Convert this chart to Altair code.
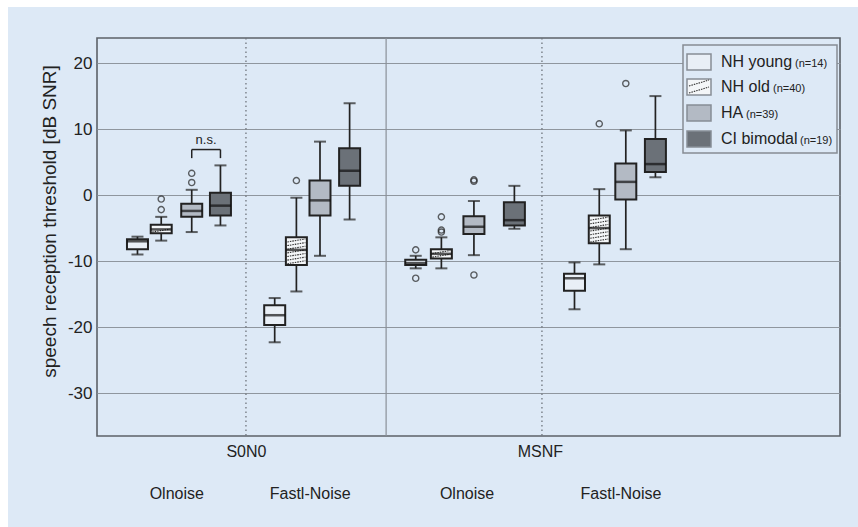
import altair as alt
import pandas as pd

# ---------------- data ----------------
conditions = ["S0N0 Olnoise", "S0N0 Fastl-Noise", "MSNF Olnoise", "MSNF Fastl-Noise"]
groups = ["NH young", "NH old", "HA", "CI bimodal"]
group_n = ["(n=14)", "(n=40)", "(n=39)", "(n=19)"]

# box centres on the condition axis (1 unit = one condition column)
box_pos = [
    [0.242, 0.404, 0.612, 0.808],
    [1.178, 1.326, 1.487, 1.689],
    [2.140, 2.315, 2.537, 2.813],
    [3.223, 3.392, 3.573, 3.775],
]
whisk_lo = [
    [-9.0, -6.9, -5.6, -4.6],
    [-22.3, -14.6, -9.2, -3.7],
    [-11.1, -11.1, -9.1, -5.1],
    [-17.3, -10.5, -8.2, 2.7],
]
q1 = [
    [-8.2, -5.8, -3.3, -3.1],
    [-19.7, -10.6, -3.1, 1.4],
    [-10.6, -9.6, -5.9, -4.6],
    [-14.5, -7.3, -0.65, 3.5],
]
median = [
    [-7.0, -5.2, -2.4, -1.6],
    [-18.2, -8.3, -0.8, 3.7],
    [-10.3, -8.9, -4.8, -3.8],
    [-12.6, -5.0, 2.0, 4.7],
]
q3 = [
    [-6.7, -4.5, -1.3, 0.35],
    [-16.7, -6.4, 2.2, 7.1],
    [-9.8, -8.2, -3.2, -1.1],
    [-11.9, -3.1, 4.8, 8.5],
]
whisk_hi = [
    [-6.3, -3.3, 0.8, 4.5],
    [-15.6, -0.4, 8.1, 13.9],
    [-9.2, -6.4, -0.9, 1.4],
    [-10.2, 0.9, 9.8, 15.0],
]
# outliers: (condition index, group index, value)
outliers = [
    (0, 1, -2.2), (0, 1, -0.6), (0, 2, 1.9), (0, 2, 3.3),
    (1, 1, 2.2),
    (2, 0, -8.3), (2, 0, -12.6), (2, 1, -5.6), (2, 1, -5.3), (2, 1, -3.3),
    (2, 2, 2.1), (2, 2, 2.3), (2, 2, -12.1),
    (3, 1, 10.8), (3, 2, 16.9),
]
# separators between condition columns
sep_pos = [0.982, 1.938, 3.001]
sep_kind = ["dotted", "solid", "dotted"]
# axis labels under the plot
scene_labels = ["S0N0", "MSNF"]
scene_pos = [0.985, 2.99]
noise_labels = ["Olnoise", "Fastl-Noise", "Olnoise", "Fastl-Noise"]
noise_pos = [0.51, 1.42, 2.49, 3.54]
# n.s. bracket between HA and CI in S0N0 Olnoise
ns_top, ns_leg, ns_text = 6.9, 5.6, 8.4
y_ticks = [-30, -20, -10, 0, 10, 20]

fills = ["#e9eff6", "#f4f6f8", "#b3bac4", "#6b7178"]
BG = "#dde9f6"
INK = "#222222"
FONT = "Liberation Sans"

# ---------------- tables ----------------
rows = []
for ci, c in enumerate(conditions):
    for gi, g in enumerate(groups):
        rows.append(dict(cond=c, group=g, pos=box_pos[ci][gi], lo=whisk_lo[ci][gi],
                         q1=q1[ci][gi], med=median[ci][gi], q3=q3[ci][gi], hi=whisk_hi[ci][gi]))
boxes = pd.DataFrame(rows)

out_df = pd.DataFrame([dict(pos=box_pos[c][g], v=v, group=groups[g]) for c, g, v in outliers])

rise, step = 0.45, 0.55
hatch = []
for ci in range(len(conditions)):
    y0 = q1[ci][1] + 0.2
    while y0 + rise < q3[ci][1] - 0.1:
        hatch.append(dict(pos=box_pos[ci][1], y=y0, y2=y0 + rise))
        y0 += step
hatch_df = pd.DataFrame(hatch)

sep_df = pd.DataFrame(dict(pos=sep_pos, kind=sep_kind))
scene_df = pd.DataFrame(dict(pos=scene_pos, label=scene_labels))
noise_df = pd.DataFrame(dict(pos=noise_pos, label=noise_labels))

xa = box_pos[0][2]
xb = box_pos[0][3]
ns_h = pd.DataFrame(dict(x=[xa], x2=[xb], y=[ns_top]))
ns_v = pd.DataFrame(dict(x=[xa, xb], y=[ns_leg, ns_leg], y2=[ns_top, ns_top]))
ns_t = pd.DataFrame(dict(x=[(xa + xb) / 2], y=[ns_text], t=["n.s."]))

# ---------------- encodings ----------------
xscale = alt.Scale(domain=[0, 5], nice=False, zero=False)
yscale = alt.Scale(domain=[-36.5, 23.8], nice=False, zero=False)
yaxis = alt.Axis(values=y_ticks, title="speech reception threshold [dB SNR]",
                 labelExpr="datum.value + ''",
                 labelFontSize=17, labelColor=INK, labelFont=FONT, labelPadding=5,
                 ticks=False, domain=False, grid=True, gridColor="#8f969e", gridWidth=1.2,
                 titleFontSize=19, titleFont=FONT, titleFontWeight="normal", titleColor=INK,
                 titleAngle=270, titleX=-48, titleY=183, titleAlign="center",
                 titleBaseline="middle")


def X(f):
    return alt.X(f + ":Q", scale=xscale, axis=None)


def Y(f):
    return alt.Y(f + ":Q", scale=yscale, axis=yaxis)


layers = []

# white page margin at top and left
layers.append(alt.Chart(pd.DataFrame({"a": [0]})).mark_rect(fill="white").encode(
    x=alt.value(-97), x2=alt.value(761), y=alt.value(-38), y2=alt.value(-31)))
layers.append(alt.Chart(pd.DataFrame({"a": [0]})).mark_rect(fill="white").encode(
    x=alt.value(-97), x2=alt.value(-89), y=alt.value(-38), y2=alt.value(489)))

# separators
layers.append(alt.Chart(sep_df).transform_filter("datum.kind == 'dotted'").mark_rule(
    color="#6f757c", strokeWidth=1.3, strokeDash=[1.5, 3]).encode(x=X("pos")))
layers.append(alt.Chart(sep_df).transform_filter("datum.kind == 'solid'").mark_rule(
    color="#8a9098", strokeWidth=1.2).encode(x=X("pos")))

base = alt.Chart(boxes)
layers.append(base.mark_rule(color=INK, strokeWidth=1.7).encode(
    x=X("pos"), y=Y("lo"), y2="hi:Q"))
layers.append(base.mark_bar(size=21, stroke=INK, strokeWidth=2).encode(
    x=X("pos"), y=Y("q1"), y2="q3:Q",
    fill=alt.Fill("group:N", scale=alt.Scale(domain=groups, range=fills), legend=None)))
layers.append(alt.Chart(hatch_df).mark_rule(color="#2a2a2a", strokeWidth=1.1,
                                            strokeDash=[1.5, 1], xOffset=-9, x2Offset=9).encode(
    x=X("pos"), x2="pos:Q", y=Y("y"), y2="y2:Q"))
layers.append(base.mark_tick(orient="horizontal", size=21, thickness=2.5, color="#111").encode(
    x=X("pos"), y=Y("med")))
layers.append(base.mark_tick(orient="horizontal", size=12, thickness=2, color=INK).encode(
    x=X("pos"), y=Y("lo")))
layers.append(base.mark_tick(orient="horizontal", size=12, thickness=2, color=INK).encode(
    x=X("pos"), y=Y("hi")))
layers.append(alt.Chart(out_df).mark_point(shape="circle", filled=False, size=38,
                                           color=INK, strokeWidth=1.4).encode(
    x=X("pos"), y=Y("v")))

# n.s. bracket
layers.append(alt.Chart(ns_h).mark_rule(color=INK, strokeWidth=1.5).encode(
    x=X("x"), x2="x2:Q", y=Y("y")))
layers.append(alt.Chart(ns_v).mark_rule(color=INK, strokeWidth=1.5).encode(
    x=X("x"), y=Y("y"), y2="y2:Q"))
layers.append(alt.Chart(ns_t).mark_text(fontSize=13, font=FONT, color=INK, baseline="middle").encode(
    x=X("x"), y=Y("y"), text="t:N"))

# category labels under the plot
layers.append(alt.Chart(scene_df).mark_text(fontSize=16, font=FONT, color=INK, baseline="middle").encode(
    x=X("pos"), y=alt.value(414), text="label:N"))
layers.append(alt.Chart(noise_df).mark_text(fontSize=16, font=FONT, color=INK, baseline="middle").encode(
    x=X("pos"), y=alt.value(456), text="label:N"))

# legend
layers.append(alt.Chart(pd.DataFrame({"a": [0]})).mark_rect(fill=BG, stroke="#868c94", strokeWidth=1.5).encode(
    x=alt.value(586), x2=alt.value(740), y=alt.value(7), y2=alt.value(115)))
row_y = [24, 49, 75, 101]
n_dx = [74, 52, 25, 79]
for i, g in enumerate(groups):
    r = row_y[i]
    one = pd.DataFrame({"label": [g], "n": [group_n[i]]})
    layers.append(alt.Chart(one).mark_rect(fill=fills[i], stroke="#878d95", strokeWidth=1.5).encode(
        x=alt.value(590), x2=alt.value(614), y=alt.value(r - 8), y2=alt.value(r + 8)))
    if g == "NH old":
        for d in (-3, 4):
            layers.append(alt.Chart(one).mark_rule(color="#333", strokeWidth=1.1, strokeDash=[1.5, 1]).encode(
                x=alt.value(592), x2=alt.value(612), y=alt.value(r + d + 2), y2=alt.value(r + d - 4)))
    layers.append(alt.Chart(one).mark_text(fontSize=16, font=FONT, color=INK, align="left",
                                           baseline="middle").encode(
        x=alt.value(624), y=alt.value(r), text="label:N"))
    layers.append(alt.Chart(one).mark_text(fontSize=11, font=FONT, color=INK, align="left",
                                           baseline="middle").encode(
        x=alt.value(624 + n_dx[i]), y=alt.value(r + 2), text="n:N"))

chart = alt.layer(*layers).properties(
    width=743, height=398,
    autosize=alt.AutoSizeParams(type="none"),
    padding={"left": 97, "top": 38, "right": 18, "bottom": 91},
).configure(background=BG).configure_view(stroke="#5c6168", strokeWidth=1.6, fill=None)

chart.save("out.html", embed_options={"renderer": "svg", "actions": False})
